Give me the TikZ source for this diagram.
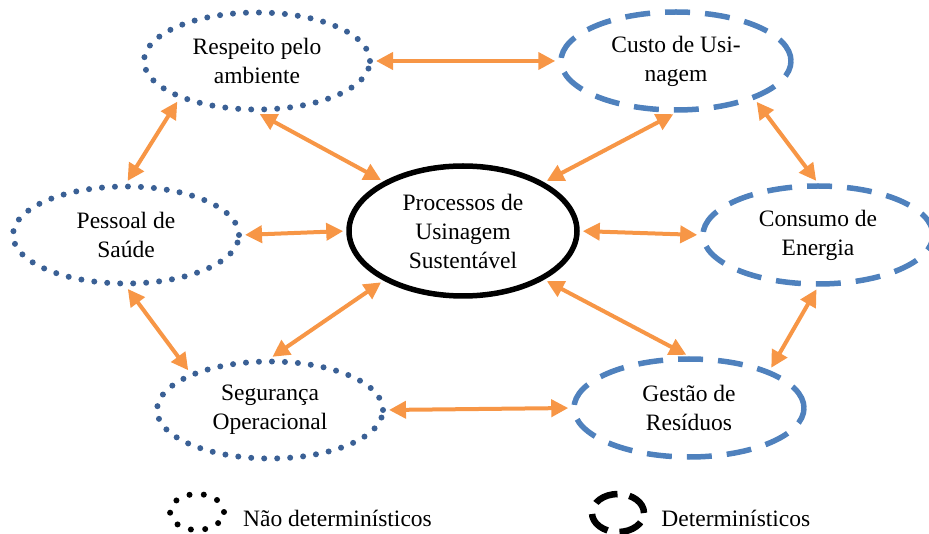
\documentclass[tikz,border=0pt]{standalone}
\usepackage{fontspec}
\setmainfont{Liberation Serif}
\usetikzlibrary{shapes.geometric,arrows.meta}
\definecolor{dotblue}{HTML}{3A6095}
\definecolor{dashblue}{HTML}{4F81BD}
\definecolor{linkorange}{HTML}{F79646}

\tikzstyle{nondet} = [ellipse, minimum width=226pt, minimum height=97pt, inner sep=0pt, align=center, draw=dotblue, line width=6pt, dash pattern=on 0pt off 13pt, line cap=round]
\tikzstyle{det} = [ellipse, minimum width=230pt, minimum height=98pt, inner sep=0pt, align=center, draw=dashblue, line width=5.5pt, dash pattern=on 25pt off 15pt]
\tikzstyle{core} = [ellipse, minimum width=228pt, minimum height=130pt, inner sep=0pt, align=center, draw=black, line width=5.5pt]
\tikzstyle{arrow} = [line width=4pt, draw=linkorange, {Triangle[length=17pt,width=17pt]}-{Triangle[length=17pt,width=17pt]}, shorten <=3pt, shorten >=3pt]

\begin{document}
\begin{tikzpicture}[x=1pt, y=1pt, node distance=170pt, font=\fontsize{23.5}{29}\selectfont]
\useasboundingbox (0,0) rectangle (929,533);
\node (proc) [core] at (463,302) {Processos de\\Usinagem\\Sustentável};
\node (resp) [nondet, above of=proc, xshift=-206pt] {Respeito pelo\\ambiente};
\node (custo) [det, above of=proc, xshift=213pt] {Custo de Usi-\\nagem};
\node (pessoal) [nondet, left of=proc, xshift=-167pt, yshift=-4pt] {Pessoal de\\Saúde};
\node (consumo) [det, right of=proc, xshift=185pt, yshift=-4pt] {Consumo de\\Energia};
\node (seg) [nondet, below of=proc, xshift=-193pt, yshift=-9pt] {Segurança\\Operacional};
\node (gestao) [det, below of=proc, xshift=226pt, yshift=-7pt] {Gestão de\\Resíduos};

\draw [arrow] (resp.0) -- (custo.180);
\draw [arrow] (resp.206) -- (pessoal.90);
\draw [arrow] (resp.270) -- (proc.148);
\draw [arrow] (custo.270) -- (proc.31);
\draw [arrow] (custo.334) -- (consumo.90);
\draw [arrow] (pessoal.0) -- (proc.180);
\draw [arrow] (proc.0) -- (consumo.180);
\draw [arrow] (pessoal.270) -- (seg.155);
\draw [arrow] (proc.212) -- (seg.90);
\draw [arrow] (proc.329) -- (gestao.90);
\draw [arrow] (consumo.270) -- (gestao.25);
\draw [arrow] (seg.0) -- (gestao.180);

\node (legdot) [ellipse, minimum width=54pt, minimum height=36pt, draw=black, line width=6pt, dash pattern=on 0pt off 14.4pt, line cap=round] at (197,21) {};
\node (legdottext) [anchor=west, inner sep=0pt, xshift=16pt, yshift=-6pt] at (legdot.east) {Não determinísticos};
\node (legdash) [ellipse, minimum width=52pt, minimum height=38pt, draw=black, line width=6.5pt, dash pattern=on 24pt off 12pt] at (618,20) {};
\node (legdashtext) [anchor=west, inner sep=0pt, xshift=14pt, yshift=-5pt] at (legdash.east) {Determinísticos};
\end{tikzpicture}
\end{document}
